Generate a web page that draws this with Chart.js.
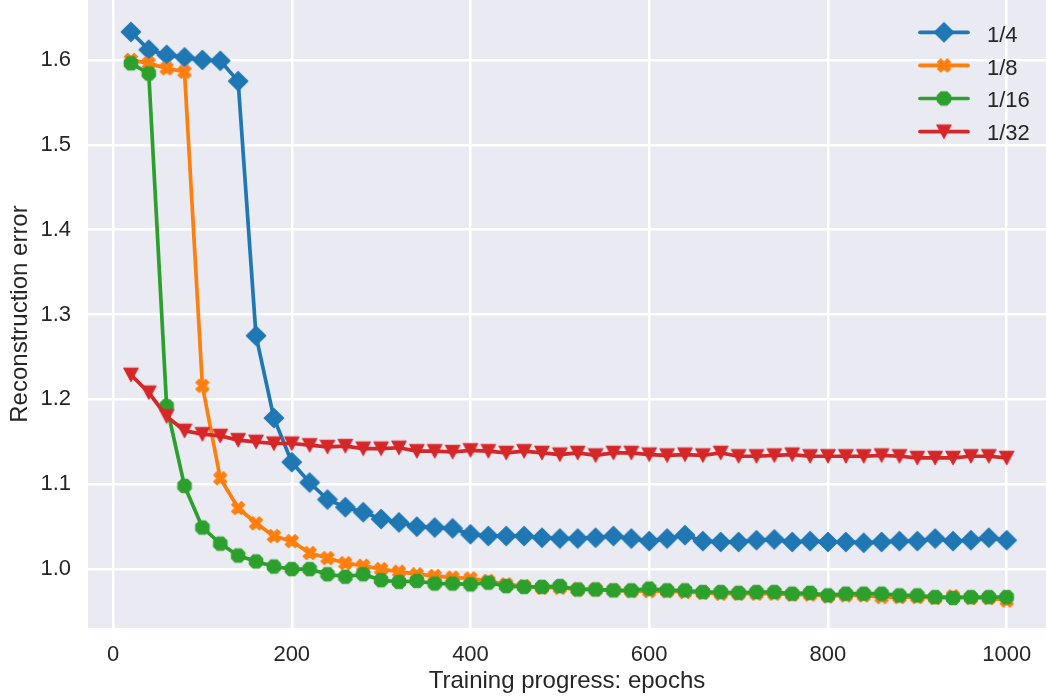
<!DOCTYPE html>
<html><head><meta charset="utf-8">
<script src="https://cdn.jsdelivr.net/npm/chart.js@4.4.0/dist/chart.umd.min.js"></script>
<style>html,body{margin:0;padding:0;background:#fff}canvas{display:block}</style>
</head><body>
<canvas id="c" width="1046" height="696"></canvas>
<script>
const epochs = [20,40,60,80,100,120,140,160,180,200,220,240,260,280,300,320,340,360,380,400,
  420,440,460,480,500,520,540,560,580,600,620,640,660,680,700,720,740,760,780,800,
  820,840,860,880,900,920,940,960,980,1000];
const seriesNames = ['1/4','1/8','1/16','1/32'];
const err_1_4 = [1.633,1.612,1.606,1.603,1.600,1.599,1.575,1.275,1.178,1.126,1.102,1.082,1.073,1.067,1.059,1.055,1.050,1.049,1.048,1.041,
  1.039,1.039,1.039,1.037,1.036,1.036,1.037,1.039,1.036,1.033,1.036,1.040,1.033,1.032,1.032,1.034,1.035,1.032,1.033,1.032,
  1.032,1.031,1.032,1.033,1.033,1.036,1.033,1.034,1.037,1.034];
const err_1_8 = [1.600,1.596,1.590,1.586,1.216,1.107,1.072,1.054,1.039,1.033,1.019,1.013,1.007,1.004,1.000,0.997,0.994,0.992,0.990,0.989,
  0.986,0.982,0.980,0.978,0.978,0.976,0.976,0.975,0.974,0.974,0.974,0.973,0.972,0.971,0.971,0.971,0.971,0.970,0.970,0.968,
  0.969,0.969,0.967,0.967,0.967,0.966,0.968,0.966,0.966,0.963];
const err_1_16 = [1.596,1.584,1.192,1.098,1.049,1.030,1.016,1.009,1.003,1.000,1.000,0.994,0.991,0.994,0.987,0.985,0.986,0.983,0.983,0.982,
  0.984,0.980,0.979,0.979,0.980,0.976,0.976,0.975,0.975,0.977,0.975,0.975,0.973,0.973,0.972,0.973,0.973,0.971,0.972,0.969,
  0.971,0.971,0.971,0.969,0.969,0.967,0.966,0.967,0.967,0.967];
const err_1_32 = [1.229,1.208,1.180,1.163,1.159,1.157,1.152,1.150,1.148,1.148,1.146,1.144,1.145,1.142,1.142,1.143,1.139,1.139,1.138,1.140,
  1.139,1.137,1.139,1.137,1.135,1.137,1.134,1.137,1.137,1.135,1.134,1.135,1.134,1.137,1.133,1.133,1.134,1.135,1.133,1.133,
  1.133,1.133,1.134,1.133,1.131,1.131,1.131,1.133,1.133,1.131];
const xTicks = [0,200,400,600,800,1000];
const yTicks = [1.0,1.1,1.2,1.3,1.4,1.5,1.6];

const colors = ['#1f77b4','#ff7f0e','#2ca02c','#d62728'];
const kinds = ['diamond','x','oct','tri'];
const FONT = '"Liberation Sans", Arial, sans-serif';
const TXT = '#262626';

function marker(kind, color) {
  const c = document.createElement('canvas');
  const S = 26; c.width = S; c.height = S;
  const g = c.getContext('2d');
  g.translate(S/2, S/2);
  g.fillStyle = color; g.strokeStyle = color; g.lineWidth = 1.1; g.lineJoin = 'round';
  g.beginPath();
  if (kind === 'diamond') { const r = 9.7; g.moveTo(0,-r); g.lineTo(r,0); g.lineTo(0,r); g.lineTo(-r,0); }
  else if (kind === 'x') {
    const k = 3.25;
    const pts = [[-1,-2],[0,-1],[1,-2],[2,-1],[1,0],[2,1],[1,2],[0,1],[-1,2],[-2,1],[-1,0],[-2,-1]];
    pts.forEach(([a,b],i)=> i ? g.lineTo(a*k,b*k) : g.moveTo(a*k,b*k));
  } else if (kind === 'oct') {
    const R = 7.3;
    for (let i=0;i<8;i++){ const a = Math.PI/8 + i*Math.PI/4; const px = R*Math.cos(a), py = R*Math.sin(a); i ? g.lineTo(px,py) : g.moveTo(px,py); }
  } else if (kind === 'tri') { const w = 7.2, h = 6.8; g.moveTo(0,h); g.lineTo(-w,-h); g.lineTo(w,-h); }
  g.closePath(); g.fill(); g.stroke();
  return c;
}
const markers = kinds.map((k,i)=>marker(k, colors[i]));
const allSeries = [err_1_4, err_1_8, err_1_16, err_1_32];

const datasets = allSeries.map((vals, i) => ({
  label: seriesNames[i],
  data: epochs.map((e, j) => ({x: e, y: vals[j]})),
  borderColor: colors[i],
  backgroundColor: colors[i],
  borderWidth: 3.7,
  pointStyle: markers[i],
  pointRadius: 8,
  pointHoverRadius: 8,
  tension: 0,
  fill: false,
  clip: false,
  order: 4 - i
}));

const bgPlugin = {
  id: 'bg',
  beforeDraw(chart) {
    const {ctx, chartArea: a} = chart;
    ctx.save();
    ctx.fillStyle = '#ffffff';
    ctx.fillRect(0, 0, chart.width, chart.height);
    ctx.fillStyle = '#EAEAF2';
    ctx.fillRect(a.left, a.top, a.right - a.left, a.bottom - a.top);
    ctx.restore();
  }
};

const legendPlugin = {
  id: 'mplLegend',
  afterDraw(chart) {
    const ctx = chart.ctx;
    ctx.save();
    chart.data.datasets.forEach((ds, i) => {
      const ly = 32.3 + 33.1 * i;
      ctx.strokeStyle = ds.borderColor;
      ctx.lineWidth = 3.7;
      ctx.lineCap = 'round';
      ctx.beginPath(); ctx.moveTo(920, ly); ctx.lineTo(968, ly); ctx.stroke();
      const m = ds.pointStyle;
      ctx.drawImage(m, 944 - m.width/2, ly - m.height/2);
      ctx.fillStyle = TXT;
      ctx.font = '22px ' + FONT;
      ctx.textAlign = 'left';
      ctx.textBaseline = 'alphabetic';
      ctx.fillText(ds.label, 987, 41.6 + 32.9 * i);
    });
    ctx.restore();
  }
};

function zeroPad(scale) {
  scale.paddingTop = 0; scale.paddingBottom = 0; scale.paddingLeft = 0; scale.paddingRight = 0;
}

new Chart(document.getElementById('c'), {
  type: 'line',
  data: { datasets },
  plugins: [bgPlugin, legendPlugin],
  options: {
    responsive: false,
    animation: false,
    devicePixelRatio: 1,
    layout: { padding: 0, autoPadding: false },
    plugins: { legend: { display: false }, tooltip: { enabled: false } },
    scales: {
      x: {
        type: 'linear',
        min: -28, max: 1044,
        afterBuildTicks: s => { s.ticks = xTicks.map(v => ({value: v})); },
        afterFit: s => { s.height = 68; zeroPad(s); },
        grid: { color: '#ffffff', lineWidth: 2.5, drawTicks: false },
        border: { display: false },
        ticks: { padding: 14, color: TXT, font: { family: FONT, size: 22 }, maxRotation: 0, autoSkip: false,
          callback: v => String(v) },
        title: { display: true, text: 'Training progress: epochs', color: TXT, font: { family: FONT, size: 24 }, padding: {top: 0, bottom: 0} }
      },
      y: {
        type: 'linear',
        min: 0.9306, max: 1.6706,
        afterBuildTicks: s => { s.ticks = yTicks.map(v => ({value: v})); },
        afterFit: s => { s.width = 88; zeroPad(s); },
        grid: { color: '#ffffff', lineWidth: 2.5, drawTicks: false },
        border: { display: false },
        ticks: { padding: 17, color: TXT, font: { family: FONT, size: 22 }, autoSkip: false,
          callback: v => v.toFixed(1) },
        title: { display: true, text: 'Reconstruction error', color: TXT, font: { family: FONT, size: 24 }, padding: {top: 6, bottom: 0} }
      }
    }
  }
});
</script>
</body></html>
